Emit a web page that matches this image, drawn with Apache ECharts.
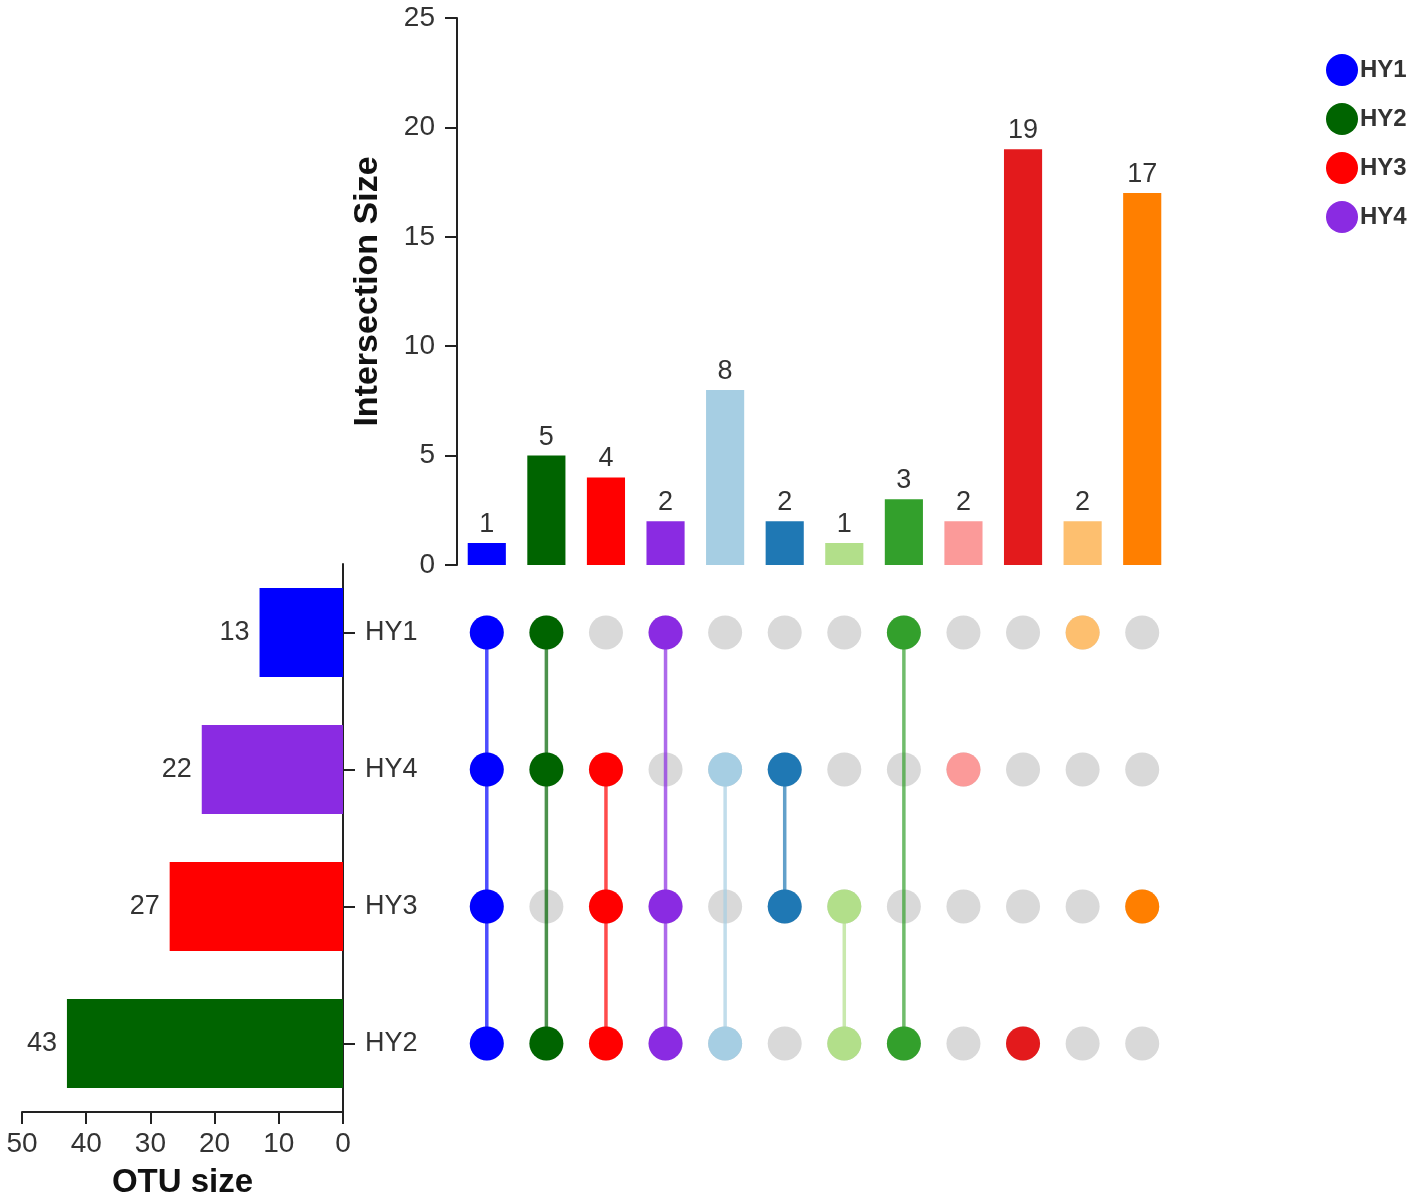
<!DOCTYPE html>
<html>
<head>
<meta charset="utf-8">
<title>UpSet plot</title>
<script src="https://cdn.jsdelivr.net/npm/echarts@6/dist/echarts.min.js"></script>
<style>
  html, body { margin: 0; padding: 0; background: #fff; }
  #main { width: 1418px; height: 1202px; }
</style>
</head>
<body>
<div id="main"></div>
<script>
// rows of the matrix, top to bottom
var sets = ['HY1', 'HY4', 'HY3', 'HY2'];
var setSizes = [13, 22, 27, 43];
var setColors = { HY1: '#0000ff', HY2: '#006400', HY3: '#ff0000', HY4: '#8a2be2' };
var legendOrder = ['HY1', 'HY2', 'HY3', 'HY4'];

// intersections, left to right
var members = [
    ['HY1', 'HY4', 'HY3', 'HY2'],
    ['HY1', 'HY4', 'HY2'],
    ['HY4', 'HY3', 'HY2'],
    ['HY1', 'HY3', 'HY2'],
    ['HY4', 'HY2'],
    ['HY4', 'HY3'],
    ['HY3', 'HY2'],
    ['HY1', 'HY2'],
    ['HY4'],
    ['HY2'],
    ['HY1'],
    ['HY3']
];
var interSizes = [1, 5, 4, 2, 8, 2, 1, 3, 2, 19, 2, 17];
var interColors = ['#0000ff', '#006400', '#ff0000', '#8a2be2', '#a6cee3', '#1f78b4',
                   '#b2df8a', '#33a02c', '#fb9a99', '#e31a1c', '#fdbf6f', '#ff7f00'];
var sizeTicks = [0, 25, 5];   // min, max, interval of intersection size axis
var otuTicks = [0, 50, 10];   // min, max, interval of OTU size axis

var cats = interSizes.map(function (v, i) { return 'I' + (i + 1); });
var font = 'Liberation Sans, Arial, sans-serif';
var txt = '#333';
var ink = '#222';

var chart = echarts.init(document.getElementById('main'));

// matrix points
var greyDots = [];
var colorDots = [];
var lineData = [];
members.forEach(function (m, ci) {
    var rows = [];
    sets.forEach(function (s, ri) {
        greyDots.push([ci, ri]);
        if (m.indexOf(s) >= 0) {
            colorDots.push({ value: [ci, ri], itemStyle: { color: interColors[ci] } });
            rows.push(ri);
        }
    });
    if (rows.length > 1) {
        lineData.push([ci, Math.min.apply(null, rows), Math.max.apply(null, rows)]);
    }
});

// left bars, one series per set so the legend picks them up
var setSeries = sets.map(function (s, i) {
    return {
        type: 'bar',
        name: s,
        xAxisIndex: 2,
        yAxisIndex: 2,
        stack: 'sets',
        barWidth: '65%',
        itemStyle: { color: setColors[s] },
        label: {
            show: true,
            position: 'left',
            distance: 10,
            color: txt,
            fontSize: 27,
            fontFamily: font
        },
        data: sets.map(function (t, j) { return j === i ? setSizes[i] : '-'; })
    };
});

chart.setOption({
    animation: false,
    grid: [
        { left: 457, top: 18, width: 715, height: 547 },
        { left: 457, top: 564, width: 715, height: 548 },
        { left: 22, top: 564, width: 321, height: 548 }
    ],
    legend: {
        data: legendOrder,
        orient: 'vertical',
        left: 1321,
        top: 49,
        icon: 'circle',
        itemWidth: 32,
        itemHeight: 32,
        itemGap: 17,
        textStyle: { color: txt, fontSize: 24, fontWeight: 'bold', fontFamily: font, padding: [0, 0, 0, -3] }
    },
    xAxis: [
        { gridIndex: 0, type: 'category', data: cats, show: false },
        { gridIndex: 1, type: 'category', data: cats, show: false },
        {
            gridIndex: 2, type: 'value', inverse: true,
            min: otuTicks[0], max: otuTicks[1], interval: otuTicks[2],
            name: 'OTU size', nameLocation: 'middle', nameGap: 54,
            nameTextStyle: { color: '#111', fontSize: 33, fontWeight: 'bold', fontFamily: font },
            axisLine: { show: true, lineStyle: { color: ink, width: 2 } },
            axisTick: { show: true, length: 12, lineStyle: { color: ink, width: 2 } },
            axisLabel: { color: txt, fontSize: 28, fontFamily: font, margin: 18 },
            splitLine: { show: false }
        }
    ],
    yAxis: [
        {
            gridIndex: 0, type: 'value',
            min: sizeTicks[0], max: sizeTicks[1], interval: sizeTicks[2],
            name: 'Intersection Size', nameLocation: 'middle', nameGap: 72, nameRotate: 90,
            nameTextStyle: { color: '#111', fontSize: 34, fontWeight: 'bold', fontFamily: font },
            axisLine: { show: true, lineStyle: { color: ink, width: 2 } },
            axisTick: { show: true, length: 12, lineStyle: { color: ink, width: 2 } },
            axisLabel: { color: txt, fontSize: 28, fontFamily: font, margin: 22 },
            splitLine: { show: false }
        },
        { gridIndex: 1, type: 'category', data: sets, inverse: true, show: false },
        {
            gridIndex: 2, type: 'category', data: sets, inverse: true, position: 'right',
            axisLine: { show: true, lineStyle: { color: ink, width: 2 } },
            axisTick: { show: true, alignWithLabel: true, length: 12, lineStyle: { color: ink, width: 2 } },
            axisLabel: { color: txt, fontSize: 27, fontFamily: font, margin: 22 }
        }
    ],
    series: [
        {
            type: 'bar',
            xAxisIndex: 0,
            yAxisIndex: 0,
            barWidth: '64%',
            label: {
                show: true,
                position: 'top',
                distance: 5,
                color: txt,
                fontSize: 27,
                fontFamily: font
            },
            data: interSizes.map(function (v, i) {
                return { value: v, itemStyle: { color: interColors[i] } };
            })
        },
        {
            type: 'scatter',
            xAxisIndex: 1,
            yAxisIndex: 1,
            symbolSize: 34,
            z: 2,
            itemStyle: { color: '#d9d9d9', opacity: 1 },
            data: greyDots
        },
        {
            type: 'custom',
            xAxisIndex: 1,
            yAxisIndex: 1,
            z: 3,
            encode: { x: 0, y: [1, 2] },
            renderItem: function (params, api) {
                var ci = api.value(0);
                var a = api.coord([ci, api.value(1)]);
                var b = api.coord([ci, api.value(2)]);
                return {
                    type: 'line',
                    shape: { x1: a[0], y1: a[1], x2: b[0], y2: b[1] },
                    style: { stroke: interColors[ci], lineWidth: 3.5, opacity: 0.7 }
                };
            },
            data: lineData
        },
        {
            type: 'scatter',
            xAxisIndex: 1,
            yAxisIndex: 1,
            symbolSize: 34,
            z: 4,
            itemStyle: { opacity: 1 },
            data: colorDots
        }
    ].concat(setSeries)
});
</script>
</body>
</html>
